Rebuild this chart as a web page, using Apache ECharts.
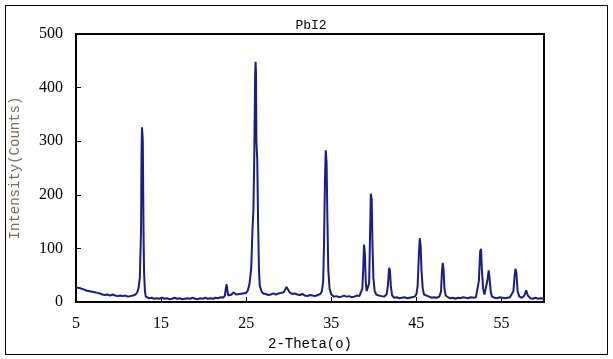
<!DOCTYPE html>
<html>
<head>
    <meta http-equiv="content-type" content="text/html;charset=utf-8">
    <script src="https://cdn.jsdelivr.net/npm/echarts@6/dist/echarts.min.js"></script>
    <style>
        body { margin: 0; background: #fff; }
        #frame { position: absolute; left: 5px; top: 5px; width: 601px; height: 348px; border: 1px solid #000; pointer-events: none; }
        #pbi2 { position: absolute; left: 0; top: 0; width: 613px; height: 359px; }
    </style>
</head>
<body>
<div id="pbi2"></div>
<div id="frame"></div>

<script type="text/javascript">
    // 2-theta positions (deg) and intensity
    var twoTheta = [
        5.0, 5.2, 5.4, 5.6, 5.8, 6.0, 6.3, 6.6, 6.9, 7.2, 7.5, 7.8, 8.1, 8.4, 8.7, 9.0, 9.3, 9.6, 9.9, 10.2,
        10.5, 10.8, 11.1, 11.4, 11.7, 12.0, 12.2, 12.35, 12.5, 12.6, 12.65, 12.7, 12.75, 12.8, 12.85, 12.9, 12.95, 13.0, 13.1, 13.2,
        13.35, 13.6, 13.9, 14.2, 14.5, 14.8, 15.1, 15.4, 15.7, 16.0, 16.3, 16.6, 16.9, 17.2, 17.5, 17.8, 18.1, 18.4, 18.7, 19.0,
        19.3, 19.6, 19.9, 20.2, 20.5, 20.8, 21.1, 21.4, 21.7, 22.0, 22.3, 22.5, 22.6, 22.7, 22.8, 22.9, 23.1, 23.3, 23.5, 23.6,
        23.8, 24.0, 24.2, 24.4, 24.6, 24.8, 25.0, 25.2, 25.4, 25.6, 25.75, 25.85, 25.95, 26.05, 26.1, 26.15, 26.2, 26.3, 26.4, 26.5,
        26.6, 26.8, 27.0, 27.3, 27.6, 27.9, 28.2, 28.5, 28.8, 29.1, 29.4, 29.6, 29.75, 29.9, 30.1, 30.4, 30.7, 31.0, 31.3, 31.6,
        31.9, 32.2, 32.5, 32.8, 33.1, 33.4, 33.7, 33.9, 34.05, 34.15, 34.25, 34.35, 34.45, 34.55, 34.65, 34.8, 35.0, 35.3, 35.6, 35.9,
        36.2, 36.5, 36.8, 37.1, 37.4, 37.7, 38.0, 38.3, 38.5, 38.65, 38.75, 38.85, 38.95, 39.05, 39.15, 39.3, 39.45, 39.55, 39.65, 39.75,
        39.85, 39.95, 40.1, 40.3, 40.6, 40.9, 41.2, 41.5, 41.65, 41.8, 41.9, 42.0, 42.15, 42.4, 42.7, 43.0, 43.3, 43.6, 43.9, 44.2,
        44.5, 44.8, 45.0, 45.15, 45.3, 45.4, 45.5, 45.6, 45.75, 45.9, 46.2, 46.5, 46.8, 47.1, 47.4, 47.7, 47.9, 48.0, 48.1, 48.2,
        48.3, 48.45, 48.7, 49.0, 49.3, 49.6, 49.9, 50.2, 50.5, 50.8, 51.1, 51.4, 51.7, 52.0, 52.2, 52.35, 52.5, 52.6, 52.7, 52.85,
        53.0, 53.2, 53.35, 53.5, 53.6, 53.75, 53.9, 54.2, 54.5, 54.8, 55.1, 55.4, 55.7, 56.0, 56.2, 56.4, 56.55, 56.65, 56.75, 56.9,
        57.1, 57.4, 57.7, 57.9, 58.1, 58.4, 58.7, 59.0, 59.3, 59.6, 60.0
    ];
    var counts = [
        27, 28, 26, 27, 24, 22, 21, 20, 19, 18, 17, 16, 14, 13, 14, 12, 14, 12, 11, 12,
        11, 12, 10, 11, 12, 14, 18, 26, 45, 105, 140, 270, 326, 315, 300, 200, 110, 55, 20, 10,
        8, 7, 8, 6, 7, 6, 8, 6, 7, 5, 6, 8, 6, 7, 5, 6, 7, 6, 8, 6,
        5, 7, 6, 8, 6, 7, 6, 8, 7, 9, 8, 12, 25, 33, 20, 12, 10, 14, 18, 19,
        14, 12, 15, 13, 16, 14, 17, 22, 35, 65, 140, 170, 270, 420, 448, 430, 300, 266, 150, 60,
        30, 20, 16, 15, 13, 14, 16, 14, 16, 17, 18, 24, 28, 25, 18, 15, 16, 14, 13, 15,
        12, 11, 13, 12, 11, 13, 15, 20, 40, 110, 220, 283, 260, 150, 60, 25, 14, 10, 11, 9,
        10, 12, 10, 11, 9, 10, 12, 11, 14, 25, 60, 107, 90, 40, 20, 18, 35, 120, 202, 190,
        100, 45, 20, 14, 12, 11, 10, 14, 30, 64, 58, 30, 12, 8, 9, 7, 8, 9, 7, 8,
        9, 10, 14, 30, 90, 119, 105, 60, 25, 14, 12, 10, 8, 9, 8, 10, 20, 55, 73, 60,
        25, 12, 9, 7, 8, 6, 8, 7, 9, 8, 7, 9, 8, 9, 12, 40, 95, 99, 60, 25,
        14, 14, 40, 59, 45, 18, 10, 8, 7, 9, 8, 7, 8, 9, 10, 20, 50, 62, 55, 20,
        10, 8, 12, 22, 12, 7, 6, 8, 6, 7, 6
    ];
    var chartTitle = 'PbI2';
    var xName = '2-Theta(o)';
    var yName = 'Intensity(Counts)';

    var pts = [];
    for (var i = 0; i < twoTheta.length; i++) {
        pts.push([twoTheta[i], counts[i]]);
    }

    var myChart = echarts.init(document.getElementById('pbi2'));
    var option = {
        animation: false,
        title: {
            text: chartTitle,
            left: 306,
            textAlign: 'center',
            top: 14,
            textStyle: { fontFamily: 'Liberation Mono', fontSize: 13, fontWeight: 'normal', color: '#000' }
        },
        grid: {
            left: 74, top: 34, right: 69, bottom: 57,
            show: true, borderColor: '#000', borderWidth: 2
        },
        xAxis: {
            type: 'value', min: 5, max: 60, interval: 10,
            name: xName, nameLocation: 'middle', nameGap: 34,
            nameTextStyle: { fontFamily: 'Liberation Mono', fontSize: 14, color: '#000' },
            splitLine: { show: false },
            axisLine: { lineStyle: { color: '#000', width: 2 } },
            axisTick: { inside: true, length: 5, lineStyle: { color: '#000' } },
            axisLabel: { margin: 14, showMaxLabel: false, fontFamily: 'Liberation Serif', fontSize: 16, color: '#000' }
        },
        yAxis: {
            type: 'value', min: 0, max: 500, interval: 100,
            name: yName, nameLocation: 'middle', nameGap: 54,
            nameTextStyle: { fontFamily: 'Liberation Mono', fontSize: 14, color: '#7a6a5a' },
            splitLine: { show: false },
            axisLine: { show: true, lineStyle: { color: '#000', width: 2 } },
            axisTick: { show: true, inside: true, length: 5, lineStyle: { color: '#000' } },
            axisLabel: { margin: 13, fontFamily: 'Liberation Serif', fontSize: 16, color: '#000' }
        },
        series: [{
            type: 'line',
            data: pts,
            showSymbol: false,
            lineStyle: { color: '#1b1b8c', width: 2 }
        }]
    };
    myChart.setOption(option);
</script>
</body>
</html>
